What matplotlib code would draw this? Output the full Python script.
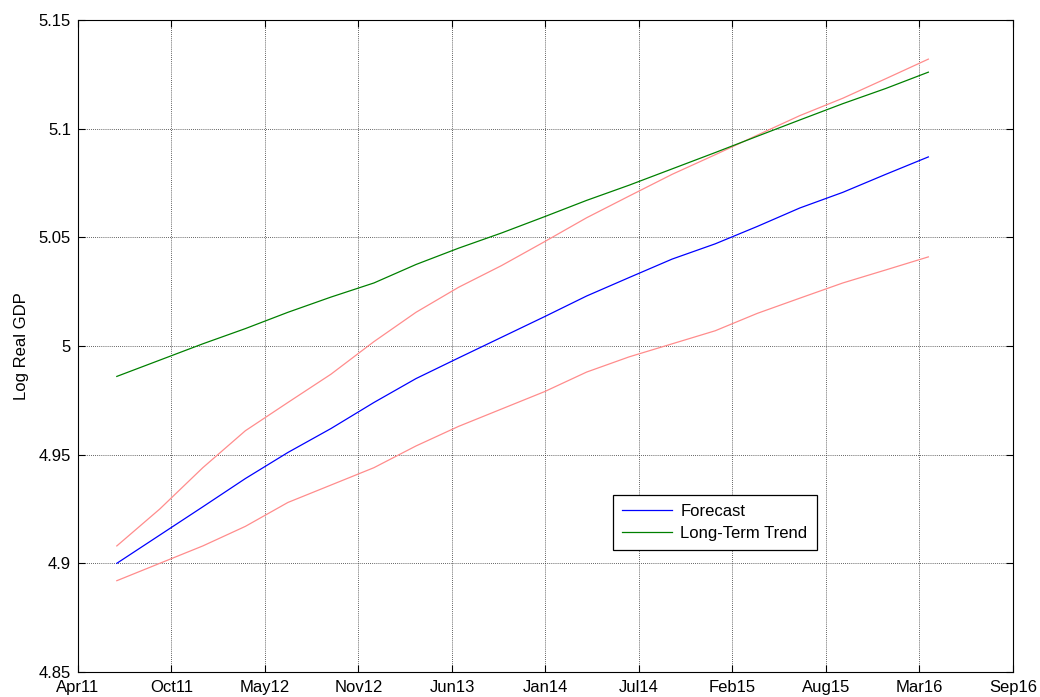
import matplotlib
matplotlib.use("Agg")
import matplotlib.pyplot as plt
import matplotlib.dates as mdates
import numpy as np
import datetime as dt

# Quarterly dates, 2011Q3 .. 2016Q2
dates = [dt.date(2011 + (6 + 3 * i) // 12, (6 + 3 * i) % 12 + 1, 1) for i in range(20)]

forecast = [4.900, 4.913, 4.926, 4.939, 4.951, 4.962, 4.974, 4.985, 4.9945, 5.004,
            5.0135, 5.023, 5.0315, 5.040, 5.047, 5.055, 5.0635, 5.0707, 5.079, 5.087]
trend = [4.986, 4.9935, 5.001, 5.008, 5.0155, 5.0225, 5.029, 5.0375, 5.045, 5.052,
         5.0595, 5.067, 5.074, 5.0815, 5.089, 5.0965, 5.104, 5.1115, 5.1185, 5.126]
upper = [4.908, 4.925, 4.944, 4.961, 4.974, 4.987, 5.002, 5.0155, 5.027, 5.037,
         5.048, 5.059, 5.069, 5.079, 5.088, 5.097, 5.106, 5.114, 5.123, 5.132]
lower = [4.892, 4.900, 4.908, 4.917, 4.928, 4.936, 4.944, 4.954, 4.963, 4.971,
         4.979, 4.988, 4.995, 5.001, 5.007, 5.015, 5.022, 5.029, 5.035, 5.041]

yticks = [4.85, 4.9, 4.95, 5.0, 5.05, 5.1, 5.15]
ytick_labels = ['4.85', '4.9', '4.95', '5', '5.05', '5.1', '5.15']

plt.rcParams['font.family'] = ['Liberation Sans', 'DejaVu Sans']

fig = plt.figure(figsize=(10.4, 6.97), dpi=100)
ax = fig.add_axes([0.075, 0.0359, 0.899, 0.9354])

x = mdates.date2num(dates)
ax.plot(x, upper, color='#ff8c8c', lw=0.9)
ax.plot(x, lower, color='#ff8c8c', lw=0.9)
ax.plot(x, forecast, color='#0000ff', lw=0.9, label='Forecast')
ax.plot(x, trend, color='#008000', lw=0.9, label='Long-Term Trend')

# MATLAB-style datetick: 10 equal intervals
x0 = mdates.date2num(dt.date(2011, 4, 9))
xt = x0 + np.arange(11) * 200
ax.set_xlim(xt[0], xt[-1])
ax.set_xticks(xt)
ax.set_xticklabels([mdates.num2date(v).strftime('%b%y') for v in xt])
ax.set_ylim(4.85, 5.15)
ax.set_yticks(yticks)
ax.set_yticklabels(ytick_labels)

ax.grid(True, color='#303030', linestyle=(0, (1, 1.5)), lw=0.6)
ax.tick_params(direction='in', top=True, right=True, length=5, width=0.8,
               labelsize=12, colors='black')
ax.tick_params(axis='x', pad=6)
ax.tick_params(axis='y', pad=5)
for s in ax.spines.values():
    s.set_linewidth(0.8)
ax.set_ylabel('Log Real GDP', fontsize=12, labelpad=7)

leg = ax.legend(loc='upper left', bbox_to_anchor=(0.572, 0.272), fontsize=12,
                fancybox=False, shadow=False, framealpha=1, edgecolor='black',
                handlelength=3.0, handletextpad=0.5, borderpad=0.55,
                labelspacing=0.45, borderaxespad=0)
leg.get_frame().set_linewidth(0.9)

fig.savefig('out.png', dpi=100)
